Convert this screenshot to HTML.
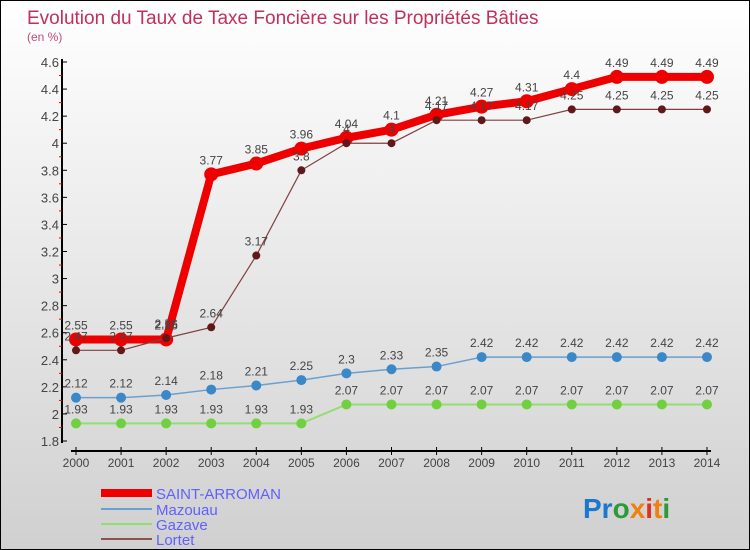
<!DOCTYPE html>
<html><head><meta charset="utf-8"><style>
body{margin:0}
#c{position:relative;width:748px;height:548px;border:1px solid #000;background:linear-gradient(#fff,#d0d0d0);font-family:"Liberation Sans",sans-serif;overflow:hidden}
</style></head><body>
<div id="c">
<svg id="s" width="748" height="548" xmlns="http://www.w3.org/2000/svg">
<text x="26" y="23" font-size="19" fill="#c0305a">Evolution du Taux de Taxe Foncière sur les Propriétés Bâties</text>
<text x="26" y="40" font-size="12" fill="#c04a7a">(en %)</text>
<g id="axes"></g><g id="series"></g>
<g>
<line x1="100" y1="492" x2="151" y2="492" stroke="#e00" stroke-width="8"/>
<text x="155" y="498" font-size="15" fill="#6060ff">SAINT-ARROMAN</text>
<line x1="100" y1="508" x2="151" y2="508" stroke="#6aa0d0" stroke-width="2"/>
<text x="155" y="514" font-size="15" fill="#6060ff">Mazouau</text>
<line x1="100" y1="523" x2="151" y2="523" stroke="#90e070" stroke-width="2"/>
<text x="155" y="529" font-size="15" fill="#6060ff">Gazave</text>
<line x1="100" y1="538" x2="151" y2="538" stroke="#905050" stroke-width="2"/>
<text x="155" y="544" font-size="15" fill="#6060ff">Lortet</text>
</g>
<text x="582" y="517" font-size="28" font-weight="bold"><tspan fill="#1a78d0">Pr</tspan><tspan fill="#2a9a3a">o</tspan><tspan fill="#f08010">x</tspan><tspan fill="#e03020">i</tspan><tspan fill="#f08010">t</tspan><tspan fill="#2a9a3a">i</tspan></text>
</svg></div>
<script>
const years=[2000,2001,2002,2003,2004,2005,2006,2007,2008,2009,2010,2011,2012,2013,2014];
const yTicks=[1.8,2,2.2,2.4,2.6,2.8,3,3.2,3.4,3.6,3.8,4,4.2,4.4,4.6];
const saint=[2.55,2.55,2.55,3.77,3.85,3.96,4.04,4.1,4.21,4.27,4.31,4.4,4.49,4.49,4.49];
const mazouau=[2.12,2.12,2.14,2.18,2.21,2.25,2.3,2.33,2.35,2.42,2.42,2.42,2.42,2.42,2.42];
const gazave=[1.93,1.93,1.93,1.93,1.93,1.93,2.07,2.07,2.07,2.07,2.07,2.07,2.07,2.07,2.07];
const lortet=[2.47,2.47,2.56,2.64,3.17,3.8,4,4,4.17,4.17,4.17,4.25,4.25,4.25,4.25];
const NS="http://www.w3.org/2000/svg";
const X=i=>75+i*45.07;
const Y=v=>440-(v-1.8)/2.8*379;
function mk(t,a,p){const e=document.createElementNS(NS,t);for(const k in a)e.setAttribute(k,a[k]);p.appendChild(e);return e;}
const ax=document.getElementById('axes');
let l=mk('line',{x1:61,y1:58,x2:61,y2:442,stroke:'#000','stroke-width':2},ax);


l=mk('line',{x1:70,y1:450,x2:710,y2:450,stroke:'#000','stroke-width':2},ax);


yTicks.forEach((v,i)=>{
 mk('line',{x1:61,y1:Y(v),x2:66,y2:Y(v),stroke:'#000'},ax);
 if(i<yTicks.length-1)mk('line',{x1:58,y1:Y(v+0.1),x2:61,y2:Y(v+0.1),stroke:'#e00'},ax);
 const t=mk('text',{x:58,y:Y(v)+5,'font-size':13,'text-anchor':'end',fill:'#444'},ax);
 t.textContent=String(v);
 
 
});
years.forEach((yr,i)=>{
 mk('line',{x1:X(i),y1:446,x2:X(i),y2:454,stroke:'#000'},ax);
 const t=mk('text',{x:X(i),y:466,'font-size':12,'text-anchor':'middle',fill:'#444'},ax);
 t.textContent=yr;
 
 
});
const sg=document.getElementById('series');
function draw(name,data,color,w,r,fill){
 const g=mk('g',{},sg);
 
 
 const p=mk('polyline',{points:data.map((v,i)=>X(i)+','+Y(v)).join(' '),fill:'none',stroke:color,'stroke-width':w},g);
 
 
 data.forEach((v,i)=>{
  const c=mk('circle',{cx:X(i),cy:Y(v),r:r,fill:fill},g);
  
  
  const t=mk('text',{x:X(i),y:Y(v)-10,'font-size':12,'text-anchor':'middle',fill:'#444'},g);
  t.textContent=String(v);
  
  
 });
}
draw('gazave',gazave,'#90e070',2,5,'#70d040');
draw('mazouau',mazouau,'#6aa0d0',1.5,5,'#3a88c8');
draw('saint-arroman',saint,'#e00',8,7,'#e00');
draw('lortet',lortet,'#804040',1.2,4,'#601818');
</script>
</body></html>
